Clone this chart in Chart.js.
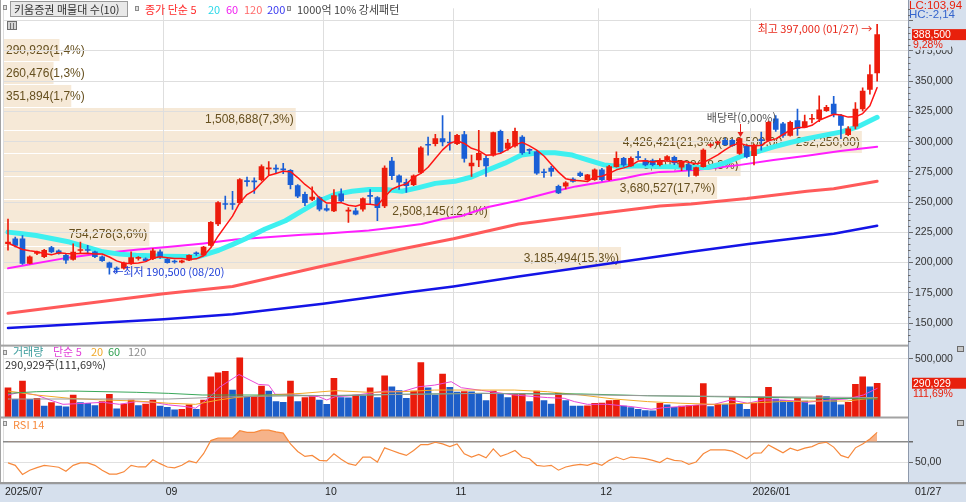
<!DOCTYPE html>
<html lang="ko"><head><meta charset="utf-8"><title>키움증권 일봉</title>
<script src="https://cdn.jsdelivr.net/npm/chart.js@4.4.1/dist/chart.umd.min.js"></script>
<style>
html,body{margin:0;padding:0;background:#fff;overflow:hidden;}
#c{display:block;}
</style></head><body>
<canvas id="c" width="966" height="502" style="width:966px;height:502px"></canvas>
<script>
// ---------------- DATA ----------------
const months = [
  ['2025-07', [30,31]],
  ['2025-08', [1,4,5,6,7,8,11,12,13,14,18,19,20,21,22,25,26,27,28,29]],
  ['2025-09', [1,2,3,4,5,8,9,10,11,12,15,16,17,18,19,22,23,24,25,26,29,30]],
  ['2025-10', [1,2,10,13,14,15,16,17,20,21,22,23,24,27,28,29,30,31]],
  ['2025-11', [3,4,5,6,7,10,11,12,13,14,17,18,19,20,21,24,25,26,27,28]],
  ['2025-12', [1,2,3,4,5,8,9,10,11,12,15,16,17,18,19,22,23,24,26,29,30]],
  ['2026-01', [2,5,6,7,8,9,12,13,14,15,16,19,20,21,22,23,26,27]]
];
const monthTickNames = {'2025-07':'2025/07','2025-09':'09','2025-10':'10','2025-11':'11','2025-12':'12','2026-01':'2026/01'};

const opens = [
215600,219700,219700,199300,207500,204800,212400,209700,206100,202600,
210000,210500,208900,204800,199900,195500,195300,199300,203500,203200,
203200,208900,202600,200900,200400,202000,207800,206100,214300,231900,
248500,248500,249600,267500,267500,268600,277500,278000,277200,276200,
263700,256400,252300,253700,244700,242800,256900,242500,242800,244100,
255200,253700,246800,284000,271800,266400,264500,274500,297500,298400,
302500,299400,298400,305800,280000,284900,286200,288900,308500,294400,
296500,303800,293300,291600,274800,278100,263100,263100,269100,274000,
268600,268600,276700,268600,279400,286200,280000,287300,284300,284300,
281000,284900,287000,279000,280800,272100,279400,296800,299000,301100,
301100,290300,296300,288400,301300,301100,318800,314700,305200,317400,
312000,318500,318800,325600,331000,321500,305800,312800,327000,343200,
356800];
const highs = [
236000,221000,222400,205500,209500,211000,213500,210500,207000,215600,
217000,214300,209500,205500,200500,196500,200500,208900,205000,204000,
211600,210500,203500,202000,202000,206500,208900,213500,234000,250500,
255000,259000,269500,270800,270000,280800,283500,280800,282100,277000,
264500,258300,262600,254500,248000,260400,261000,245500,245000,253500,
260400,254500,280000,287100,272500,269000,272500,296000,303800,306000,
321500,307900,306000,308500,288900,309300,288000,308000,309500,302000,
311200,305000,294000,292500,277300,279500,264000,267000,270000,275000,
273000,277500,278000,280500,291600,287000,287500,292000,286000,285500,
286000,288500,288000,284000,282000,279000,294000,298500,300500,303000,
302000,303000,297000,298000,307900,317000,321500,316000,317000,327000,
322000,322500,337800,330000,337500,322500,312500,332300,344500,363600,
397000];
const lows = [
210200,213000,198500,198800,206500,204000,208000,207000,199300,202000,
207500,207500,204000,201000,190500,191500,194500,198500,202000,201000,
202500,203500,199500,199500,199800,201500,206000,205500,213500,230500,
244200,244000,248500,263100,257200,267500,272600,274000,273600,261000,
253700,247000,251300,242800,242500,242000,250000,233300,239500,242500,
248800,234600,245500,268600,260400,258000,263500,273500,288900,296500,
296500,293000,297500,283000,271300,279400,271300,288000,290500,293000,
295500,289500,290000,273000,270500,271500,257000,261000,266500,271000,
268000,268000,267500,268000,279000,279500,279500,285000,280000,280000,
280000,284000,281000,276000,271300,271500,279000,295500,297500,297000,
296000,289500,286500,280800,293000,300500,308500,303500,304500,305200,
311500,315500,316500,325000,320500,302500,305000,310500,325500,339200,
350000];
const closes = [
217000,214300,199300,204800,208900,210200,208900,207500,202000,208600,
210500,210000,204800,201500,196100,194500,199900,204200,203800,201500,
209700,204800,200000,200500,201500,206100,207300,212900,233300,249600,
248000,248000,268600,267000,266800,279400,278000,277300,276700,264500,
255000,249600,254200,244100,243300,255500,250900,243000,240100,252900,
254800,245500,278100,271800,266400,263700,271800,294900,297000,302500,
299800,298900,305200,286200,282200,290300,280000,307400,291600,298900,
308500,290800,292800,274000,274300,275300,257700,265900,267200,271800,
272600,276700,268600,279400,286200,280800,286200,286800,280800,281000,
284500,287600,282500,283000,276700,278600,293000,297300,299600,297600,
297100,302500,287600,297100,300900,316000,310100,305200,316000,310700,
316600,318800,326400,328300,322900,313400,310700,327000,341900,355500,
388500];
const ma5 = [
216200,213500,210800,209700,208900,207500,206400,208100,207500,207400,
207500,207700,207200,207100,204600,201400,199400,199200,199700,200800,
203800,204800,204000,203300,203300,202600,203100,205700,212200,221800,
230200,238400,249500,256200,259700,266000,272000,273700,275600,275200,
270300,264600,260000,253500,249200,249300,249600,247400,246600,248500,
248300,247300,254300,260600,263300,265100,270400,273700,278800,286000,
293200,298600,300700,298500,294500,292600,288800,289200,290300,293600,
297300,299400,296500,293000,288100,281400,274800,269400,268100,267600,
267000,270800,271400,273800,276700,278300,280200,283900,284200,283100,
283900,284100,283300,283700,282900,281700,282800,285700,289000,293200,
296900,298800,296900,296400,297000,300800,302300,305900,309600,311600,
311700,313500,317700,320200,322600,322000,320300,320500,323200,329700,
344700];
// moving averages as [bar, value]
const ma20 = [[0,225200],[2,223800],[3.9,222400],[6.2,219700],[8.5,217000],[10.8,212900],[13.1,208900],[15.4,207000],[17.7,206100],[21.5,205300],[24.5,205000],[26.2,204800],[29.1,210200],[31.2,215500],[32.8,219700],[35.5,227800],[38.3,234600],[40.6,242800],[42.9,250900],[45.2,256400],[47.5,259000],[49.8,260400],[52.1,260400],[54.4,259000],[56.7,262000],[59,265500],[61.7,267200],[64,270800],[66.3,276700],[68.6,282200],[70.9,288900],[73.2,290800],[75.5,290800],[77.9,288900],[80,284900],[82.3,280800],[84.6,279400],[87.4,280000],[89.7,279400],[92,279300],[94.3,278600],[96.6,278600],[98.9,282200],[101.1,287600],[103.4,291600],[105.7,295700],[108,299300],[110.3,302500],[112.6,305200],[114.9,307900],[117.2,312000],[120,320100]];
const ma60 = [[0,195300],[8.5,204300],[13,207800],[18,210800],[22,212800],[27,215800],[31.4,219000],[40.6,223000],[43.5,223800],[49.8,226500],[54.5,229800],[57.1,231900],[60,236000],[62.6,238500],[66.3,246000],[70.7,251600],[75.5,259000],[78.4,263000],[80,264500],[84.6,269100],[87.4,272600],[90,275000],[92,275300],[96.6,277500],[101.1,280800],[105.7,284900],[110.3,288400],[114.9,292200],[120,295700]];
const ma120 = [[0,158100],[21.5,174300],[31,180300],[43.5,197200],[54.7,211600],[61.5,219700],[70.5,231900],[81.6,240600],[90,246800],[94.3,248500],[102,253000],[110.3,259000],[114,261000],[120,267200]];
const ma200 = [[0,145900],[21.5,153200],[31,157300],[43.5,166000],[54.7,175000],[61.5,180300],[70.5,188500],[81.6,198000],[94.3,208900],[102.5,215600],[114,223800],[120,230500]];

const volumes = [
253000,155000,309000,155000,163000,98000,126000,98000,90000,191000,
126000,121000,101000,135000,197000,73000,115000,149000,101000,115000,
149000,96000,87000,66000,70000,107000,70000,149000,346000,379000,
393000,233000,506000,172000,178000,267000,225000,135000,129000,309000,
135000,169000,177000,149000,112000,332000,170000,168000,191000,185000,
253000,169000,354000,261000,228000,163000,225000,466000,253000,191000,
368000,256000,216000,220000,218000,205000,143000,225000,200000,169000,
197000,205000,135000,225000,143000,115000,205000,143000,98000,96000,
99000,121000,123000,143000,145000,98000,84000,70000,59000,56000,
121000,107000,87000,98000,101000,103000,289000,93000,112000,110000,
169000,112000,70000,121000,169000,256000,157000,143000,135000,163000,
140000,107000,183000,177000,155000,107000,129000,281000,346000,260480,
290929];
const vma5 = [[0,191000],[1.6,214000],[3.9,191000],[6.2,140000],[7.6,112000],[10.8,121000],[13.1,129000],[15.4,112000],[17.7,135000],[20,129000],[22.2,107000],[24.5,93000],[25.9,79000],[27.8,169000],[29.1,253000],[31.9,365000],[34.6,281000],[36,275000],[36.9,197000],[38.8,197000],[39.7,191000],[42.9,177000],[44,149000],[45.2,177000],[47.5,185000],[49.8,205000],[52.1,225000],[54.4,219000],[56.7,261000],[58.9,275000],[61.2,304000],[62.6,253000],[65.4,230000],[69.9,191000],[74.5,169000],[76.8,163000],[78.2,135000],[80,112000],[82.8,112000],[86,93000],[88.8,70000],[90.6,84000],[92.9,93000],[95.2,107000],[97.5,112000],[99.8,149000],[102.1,121000],[104.3,149000],[106.6,149000],[108.9,140000],[110.3,129000],[113.5,149000],[115.8,157000],[118.1,191000],[120,247000]];
const vma20 = [[0,225000],[3.9,191000],[8.5,163000],[13.1,149000],[17.7,140000],[22.2,121000],[25.9,112000],[29.1,149000],[31.4,169000],[36,191000],[40.6,205000],[45.2,228000],[49.8,214000],[54.4,219000],[58.9,233000],[65.4,233000],[69.9,233000],[74.5,219000],[79.1,191000],[83.7,157000],[88.3,135000],[92.9,121000],[97.5,112000],[102.1,121000],[106.6,135000],[111.2,140000],[115.8,140000],[120,169000]];
const vma60 = [[0,205000],[3.9,219000],[8.5,225000],[17.7,214000],[22.2,205000],[26.8,191000],[36,191000],[45.2,185000],[54.4,197000],[65.4,205000],[79.1,200000],[88.3,185000],[97.5,177000],[106.6,169000],[120,157000]];
const vma120 = [[0,157000],[22.2,157000],[31.4,177000],[65.4,205000],[88.3,185000],[120,169000]];

const rsi = [
49.4,47.1,38.3,42.4,44.9,47.1,46.2,45.2,41.4,47.1,
49.4,49.4,47.1,42.4,38.6,38.6,40.8,47.1,45.5,45.5,
52.5,48.7,45.5,44.6,47.1,51.3,49.4,58.3,71.0,73.5,
73.5,73.5,80.5,78.9,78.9,81.1,81.1,79.5,78.3,67.8,
60.5,55.7,56.7,51.9,51.3,58.3,52.9,48.7,47.1,55.1,
55.1,50.3,64.0,61.4,58.9,56.7,61.4,67.1,67.1,69.4,
67.8,65.2,67.8,58.3,55.1,57.6,54.4,63.0,55.7,58.3,
61.4,55.1,53.5,47.1,46.2,47.1,42.4,45.5,47.1,48.1,
47.1,49.4,47.1,51.9,55.1,52.5,55.1,54.4,53.5,51.9,
49.7,54.1,51.9,51.3,48.1,50.3,58.3,62.1,62.1,62.1,
60.8,57.3,53.5,58.9,59.2,66.8,63.0,59.2,63.7,61.4,
63.7,65.2,68.4,69.4,64.7,56.7,54.4,64.0,67.8,72.5,
78.9];

// volume profile (매물대), top band first
const bandEdges = [386000,366900,347800,328700,309600,290500,271400,252300,233200,214100,195000];
const bandVolumes = [290929,260476,351894,1508688,4426421,3801533,3680527,2508145,754278,3185494];
const maxBandRange = [310500,292250];
const priceTicks = [150000,175000,200000,225000,250000,275000,300000,325000,350000,375000,400000];
const exDivDate = '2025-12-29', exDivRate = 0;

// ---------------- HELPERS ----------------
const dates = months.flatMap(([m, ds]) => ds.map(d => m + '-' + String(d).padStart(2,'0')));
const N = closes.length;
const XMIN = -0.69, XMAX = 124.26;
const fmt = v => Math.round(v).toLocaleString('en-US');
const pct = v => v.toFixed(2).replace('.', ',');
const pct1 = v => v.toFixed(1).replace('.', ',');
const md = d => d.slice(5,7) + '/' + d.slice(8,10);
const monthTicks = Object.keys(monthTickNames).map(m => {
  const i = dates.findIndex(d => d.startsWith(m));
  return {value: i === 0 ? XMIN : i - 0.5, label: monthTickNames[m]};
});

function hasFont(name){
  const c = document.createElement('canvas').getContext('2d');
  c.font = "40px monospace"; const w1 = c.measureText('350,000 abcW').width;
  c.font = "40px '" + name + "', monospace"; const w2 = c.measureText('350,000 abcW').width;
  return Math.abs(w1 - w2) > 0.5;
}
const NARROW = hasFont('Liberation Sans Narrow');
const axisFont = NARROW ? {family: "'Liberation Sans Narrow'", size: 12} : {family: "'Liberation Sans', Arial, sans-serif", size: 10.5};
const axisFontStr = axisFont.size + 'px ' + axisFont.family;
const KR = "'Noto Sans CJK KR','Noto Sans CJK SC','Noto Sans',sans-serif";
const LAT = "'Liberation Sans',Arial,sans-serif";

const AXIS_BG = '#d6e0ed';
const RED = '#ec1c0c', BLUE = '#1a5fd6';
const VRED = '#ea1b0b', VBLUE = '#1d5ec8';
const BAND_BG = '#f6e9d7', BAND_TXT = '#66501f';
const BAND_FRAC = 0.949;

const candleColor = closes.map((c, i) => c >= opens[i] ? RED : BLUE);
const volColor = volumes.map((v, i) => (i === 0 || v > volumes[i-1]) ? VRED : VBLUE);
const idx = closes.map((_, i) => i);
const pairs = arr => arr.map(([i, v]) => ({x: i, y: v}));
const lineDS = (data, color, width, axis, order) => ({type: 'line', data, borderColor: color, borderWidth: width,
  pointRadius: 0, tension: 0, fill: false, yAxisID: axis, order, borderJoinStyle: 'round', borderCapStyle: 'round'});

function txt(ctx, s, x, y, color, font, align) {
  ctx.fillStyle = color; ctx.font = font; ctx.textAlign = align || 'left'; ctx.textBaseline = 'middle'; ctx.fillText(s, x, y);
}
function icon(ctx, x, y) {
  ctx.fillStyle = '#8c8c8c'; ctx.fillRect(x, y, 4, 5);
  ctx.fillStyle = '#e0e0e0'; ctx.fillRect(x + 1, y + 1, 2, 3);
}
function boxIcon(ctx, x, y) {
  ctx.fillStyle = '#c8c8c8'; ctx.fillRect(x, y, 7, 6);
  ctx.strokeStyle = '#6a6a6a'; ctx.lineWidth = 1; ctx.strokeRect(x + 0.5, y + 0.5, 6, 5);
}

const kiwoomPlugin = {
  id: 'kiwoom',
  beforeDraw(chart) {
    const {ctx, chartArea: ca, scales} = chart;
    const ys = scales.y;
    ctx.save();
    ctx.fillStyle = '#fff'; ctx.fillRect(0, 0, chart.width, chart.height);
    ctx.fillStyle = AXIS_BG;
    ctx.fillRect(ca.right, 0, chart.width - ca.right, chart.height);
    ctx.fillRect(0, ca.bottom, chart.width, chart.height - ca.bottom);
    // volume profile bands
    const maxV = Math.max(...bandVolumes);
    const total = bandVolumes.reduce((a, b) => a + b, 0);
    ctx.font = '12px ' + LAT;
    bandVolumes.forEach((v, k) => {
      const y1 = Math.round(ys.getPixelForValue(bandEdges[k]));
      const y2 = Math.round(ys.getPixelForValue(bandEdges[k + 1]));
      const w = v / maxV * BAND_FRAC * ca.width;
      ctx.fillStyle = BAND_BG;
      ctx.fillRect(ca.left, y1 + 1, w, y2 - y1 - 1);
      let label = fmt(v) + '(' + pct1(v / total * 100) + '%)';
      if (v === maxV) label += '(' + fmt(maxBandRange[0]) + ',00 ~ ' + fmt(maxBandRange[1]) + ',00)';
      ctx.font = '12px ' + LAT;
      const tw = ctx.measureText(label).width;
      const right = Math.max(ca.left + w - 2, ca.left + 3 + tw);
      txt(ctx, label, right, (y1 + y2) / 2 + 1, BAND_TXT, '12px ' + LAT, 'right');
    });
    ctx.restore();
  },
  afterDraw(chart) {
    const {ctx, chartArea: ca, scales} = chart;
    const {x, y, yv, yr} = scales;
    ctx.save();
    // borders & separators
    ctx.fillStyle = '#a3a3a3';
    ctx.fillRect(0, 0, 1, ca.bottom);
    ctx.fillRect(0, y.bottom - 1, ca.right, 2);
    ctx.fillRect(0, yv.bottom - 1, ca.right, 2);
    ctx.fillStyle = '#9a9a9a';
    ctx.fillRect(0, ca.bottom - 1, chart.width, 2);
    ctx.fillStyle = '#c5cedb';
    ctx.fillRect(0, ca.bottom + 1, chart.width, 1);
    ctx.fillStyle = '#8e99ab';
    ctx.fillRect(ca.right, 0, 1, ca.bottom);
    // minor ticks on price axis
    ctx.strokeStyle = '#6a6a6a'; ctx.lineWidth = 1;
    ctx.beginPath();
    for (let v = 135000; v <= 410000; v += 5000) {
      if (v % 25000 === 0) continue;
      const py = Math.round(y.getPixelForValue(v)) + 0.5;
      ctx.moveTo(ca.right, py); ctx.lineTo(ca.right + 2.5, py);
    }
    ctx.stroke();

    // top legend
    icon(ctx, 3, 5);
    ctx.fillStyle = '#e8e8e8'; ctx.fillRect(10, 1.5, 117, 15);
    ctx.strokeStyle = '#9a9a9a'; ctx.strokeRect(10.5, 1.5, 117, 15);
    txt(ctx, '키움증권 매물대 수(10)', 14, 9.5, '#333', '11px ' + KR);
    icon(ctx, 135, 6);
    txt(ctx, '종가 단순 5', 145, 9.5, '#ff2a2a', '11px ' + KR);
    txt(ctx, '20', 208, 9.5, '#2ad8e8', '11px ' + KR);
    txt(ctx, '60', 226, 9.5, '#f020f0', '11px ' + KR);
    txt(ctx, '120', 244, 9.5, '#ff6a6a', '11px ' + KR);
    txt(ctx, '200', 267, 9.5, '#3a3af0', '11px ' + KR);
    icon(ctx, 287, 6);
    txt(ctx, '1000억 10% 강세패턴', 297, 9.5, '#444', '11px ' + KR);
    // second-row icon
    ctx.fillStyle = '#d4d4d4'; ctx.fillRect(7, 21, 10, 9);
    ctx.strokeStyle = '#707070'; ctx.strokeRect(7.5, 21.5, 9, 8);
    ctx.beginPath(); ctx.moveTo(10.5, 23); ctx.lineTo(10.5, 29); ctx.moveTo(13.5, 23); ctx.lineTo(13.5, 29); ctx.stroke();

    // high / low annotations
    const hiV = Math.max(...highs), loV = Math.min(...lows);
    const hiI = highs.indexOf(hiV), loI = lows.indexOf(loV);
    const hx = x.getPixelForValue(hiI), hy = y.getPixelForValue(hiV);
    txt(ctx, '최고 ' + fmt(hiV) + ' (' + md(dates[hiI]) + ') →', hx - 5, hy + 4, '#e8281a', '11px ' + KR, 'right');
    const lx = x.getPixelForValue(loI), ly = y.getPixelForValue(loV);
    txt(ctx, '←최저 ' + fmt(loV) + ' (' + md(dates[loI]) + ')', lx + 3, ly - 2.5, '#2040d8', '11px ' + KR, 'left');
    // ex-dividend marker
    const dI = dates.indexOf(exDivDate);
    const dx = Math.round(x.getPixelForValue(dI)) + 0.5, tip = y.getPixelForValue(highs[dI]) - 1;
    ctx.strokeStyle = '#e8201a'; ctx.lineWidth = 1;
    ctx.beginPath(); ctx.moveTo(dx, tip - 13); ctx.lineTo(dx, tip - 3); ctx.stroke();
    ctx.fillStyle = '#e8201a';
    ctx.beginPath(); ctx.moveTo(dx - 3, tip - 5); ctx.lineTo(dx + 3, tip - 5); ctx.lineTo(dx, tip); ctx.closePath(); ctx.fill();
    txt(ctx, '배당락(' + pct(exDivRate) + '%)', dx + 1, tip - 19, '#505050', '11px ' + KR, 'center');

    // right axis info
    const last = closes[N - 1], prev = closes[N - 2];
    txt(ctx, 'LC:' + pct((last / loV - 1) * 100), ca.right + 1, 6, '#e8200c', '11.5px ' + LAT);
    txt(ctx, 'HC:' + pct((last / hiV - 1) * 100), ca.right + 1, 15, '#3464cc', '11.5px ' + LAT);
    const lp = y.getPixelForValue(last);
    ctx.fillStyle = '#e8200c'; ctx.fillRect(ca.right + 4, lp - 5.5, chart.width - ca.right - 4, 11);
    txt(ctx, fmt(last), ca.right + 5, lp + 0.5, '#fff', axisFontStr);
    ctx.fillStyle = AXIS_BG; ctx.fillRect(ca.right + 3, lp + 5.5, 40, 10);
    txt(ctx, pct((last / prev - 1) * 100) + '%', ca.right + 5, lp + 10.5, '#e8200c', axisFontStr);

    // volume panel
    icon(ctx, 3, 350);
    txt(ctx, '거래량', 13, 352, '#3c9c9c', '11px ' + KR);
    txt(ctx, '단순 5', 53, 352, '#e040d8', '11px ' + KR);
    txt(ctx, '20', 91, 352, '#f0a828', '11px ' + KR);
    txt(ctx, '60', 108, 352, '#2fa050', '11px ' + KR);
    txt(ctx, '120', 128, 352, '#8c8c8c', '11px ' + KR);
    const lv = volumes[N - 1], pv = volumes[N - 2];
    txt(ctx, fmt(lv) + '주(' + pct(lv / pv * 100) + '%)', 5, 364.5, '#333', '11px ' + KR);
    const vp = yv.getPixelForValue(lv);
    ctx.fillStyle = '#e8200c'; ctx.fillRect(ca.right + 4, vp - 5.5, chart.width - ca.right - 4, 11);
    txt(ctx, fmt(lv), ca.right + 5, vp + 0.5, '#fff', axisFontStr);
    txt(ctx, pct(lv / pv * 100) + '%', ca.right + 5, vp + 11, '#e8200c', axisFontStr);
    boxIcon(ctx, 957, 346);

    // RSI panel
    icon(ctx, 3, 421);
    txt(ctx, 'RSI 14', 13, 425, '#f7893c', '11px ' + KR);
    boxIcon(ctx, 957, 420);

    // last date on bottom axis
    txt(ctx, md(dates[N - 1]), ca.right + 7, 492.5, '#222', axisFontStr);
    ctx.restore();
  }
};

Chart.defaults.font.family = KR;

new Chart(document.getElementById('c'), {
  type: 'bar',
  data: {
    datasets: [
      lineDS(pairs(ma200), '#1414e6', 2.5, 'y', 7),
      lineDS(pairs(ma120), '#ff5a5a', 3, 'y', 6),
      lineDS(pairs(ma60), '#ff1eff', 2, 'y', 5),
      lineDS(pairs(ma20), '#3ef0f0', 5, 'y', 4),
      {type: 'bar', data: idx.map(i => ({x: i, y: [lows[i], highs[i]]})), backgroundColor: candleColor,
        barThickness: 1, grouped: false, yAxisID: 'y', order: 3, borderWidth: 0},
      {type: 'bar', data: idx.map(i => ({x: i, y: [opens[i], closes[i]]})), backgroundColor: candleColor,
        barThickness: 5, minBarLength: 1, grouped: false, yAxisID: 'y', order: 2, borderWidth: 0},
      lineDS(idx.map(i => ({x: i, y: ma5[i]})), '#ff1414', 1.5, 'y', 1),
      {type: 'bar', data: idx.map(i => ({x: i, y: volumes[i]})), backgroundColor: volColor,
        barThickness: 6, grouped: false, yAxisID: 'yv', order: 8, borderWidth: 0},
      lineDS(pairs(vma120), '#9a9a9a', 1, 'yv', 1),
      lineDS(pairs(vma60), '#3aa85a', 1, 'yv', 1),
      lineDS(pairs(vma20), '#f2aa28', 1, 'yv', 1),
      lineDS(pairs(vma5), '#e848d8', 1, 'yv', 1),
      {type: 'line', data: idx.map(i => ({x: i, y: rsi[i]})), borderColor: '#f7893c', borderWidth: 1.2,
        pointRadius: 0, tension: 0, yAxisID: 'yr', order: 1,
        fill: {target: {value: 70}, above: 'rgba(244,166,118,0.85)', below: 'rgba(0,0,0,0)'}}
    ]
  },
  options: {
    responsive: false, animation: false, events: [],
    layout: {padding: {left: 0, right: 0, top: 1, bottom: 0}},
    plugins: {legend: {display: false}, tooltip: {enabled: false}},
    scales: {
      x: {type: 'linear', min: XMIN, max: XMAX, offset: false, position: 'bottom',
        afterBuildTicks: s => { s.ticks = monthTicks.map(t => ({value: t.value})); },
        afterFit: s => { s.height = 19; },
        ticks: {autoSkip: false, maxRotation: 0, minRotation: 0, align: 'start', labelOffset: 2, padding: 3,
          color: '#222', font: axisFont, callback: (v, k) => monthTicks[k] ? monthTicks[k].label : ''},
        grid: {color: '#dedede', drawTicks: false, offset: false},
        border: {display: false}},
      y: {type: 'linear', position: 'right', stack: 'panes', stackWeight: 342.5, min: 131352, max: 410261,
        afterBuildTicks: s => { s.ticks = priceTicks.map(v => ({value: v})); },
        afterFit: s => { s.width = 58; },
        ticks: {autoSkip: false, color: '#333', font: axisFont, padding: 2, callback: v => v >= 400000 ? '' : fmt(v)},
        grid: {color: '#dedede', tickColor: '#6a6a6a', tickLength: 5},
        border: {display: false}},
      yv: {type: 'linear', position: 'right', stack: 'panes', stackWeight: 73, min: 0, max: 610368,
        afterBuildTicks: s => { s.ticks = [{value: 500000}]; },
        afterFit: s => { s.width = 58; },
        ticks: {autoSkip: false, color: '#333', font: axisFont, padding: 2, callback: v => fmt(v)},
        grid: {color: '#e2e2e2', tickColor: '#6a6a6a', tickLength: 5},
        border: {display: false}},
      yr: {type: 'linear', position: 'right', stack: 'panes', stackWeight: 66.5, min: 30, max: 93.33,
        afterBuildTicks: s => { s.ticks = [{value: 50}, {value: 70}]; },
        afterFit: s => { s.width = 58; },
        ticks: {autoSkip: false, color: '#333', font: axisFont, padding: 2, callback: v => v === 50 ? pct(50) : ''},
        grid: {color: c => (c.tick && c.tick.value === 70) ? '#8a8a8a' : '#e0e0e0',
          lineWidth: c => (c.tick && c.tick.value === 70) ? 1.5 : 1, tickColor: '#6a6a6a', tickLength: 5},
        border: {display: false}}
    }
  },
  plugins: [kiwoomPlugin]
});
</script></body></html>
